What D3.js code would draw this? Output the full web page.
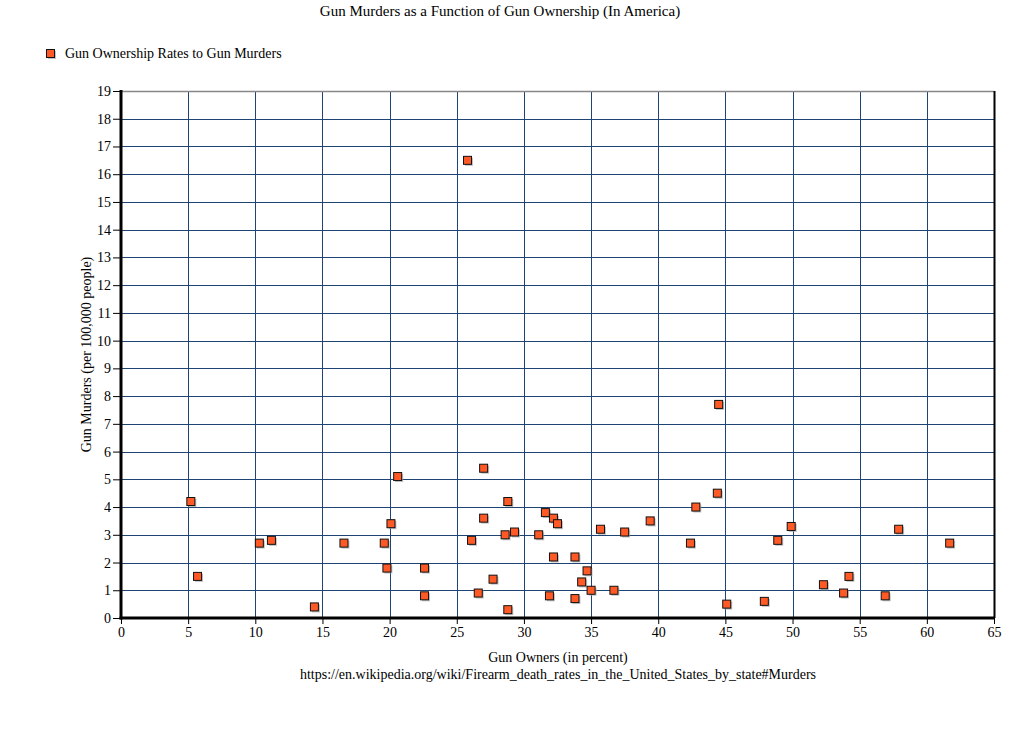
<!DOCTYPE html>
<html>
<head>
<meta charset="utf-8">
<script src="https://cdn.jsdelivr.net/npm/d3@7"></script>
<style>
  html, body { margin: 0; padding: 0; background: #fff; }
  svg text { font-family: "Liberation Serif", "Times New Roman", serif; fill: #000; }
</style>
</head>
<body>
<svg id="chart" width="1024" height="753"></svg>
<script>
// Gun ownership (percent) per state
const ownership = [5.2, 5.7, 10.3, 11.2, 14.4, 16.6, 19.6, 19.8, 20.1, 20.6,
  22.6, 22.6, 25.8, 26.1, 26.6, 27.0, 27.0, 27.7, 28.6, 28.8, 28.8, 29.3,
  31.1, 31.6, 31.9, 32.2, 32.2, 32.5, 33.8, 33.8, 34.3, 34.7, 35.0, 35.7,
  36.7, 37.5, 39.4, 42.4, 42.8, 44.4, 44.5, 45.1, 47.9, 48.9, 49.9, 52.3,
  53.8, 54.2, 56.9, 57.9, 61.7];
// Gun murders per 100,000 people
const murders = [4.2, 1.5, 2.7, 2.8, 0.4, 2.7, 2.7, 1.8, 3.4, 5.1,
  1.8, 0.8, 16.5, 2.8, 0.9, 5.4, 3.6, 1.4, 3.0, 4.2, 0.3, 3.1,
  3.0, 3.8, 0.8, 3.6, 2.2, 3.4, 2.2, 0.7, 1.3, 1.7, 1.0, 3.2,
  1.0, 3.1, 3.5, 2.7, 4.0, 4.5, 7.7, 0.5, 0.6, 2.8, 3.3, 1.2,
  0.9, 1.5, 0.8, 3.2, 2.7];
const xTicks = d3.range(0, 66, 5);
const yTicks = d3.range(0, 20, 1);
const titleText = "Gun Murders as a Function of Gun Ownership (In America)";
const legendText = "Gun Ownership Rates to Gun Murders";
const xLabel = "Gun Owners (in percent)";
const sourceText = "https://en.wikipedia.org/wiki/Firearm_death_rates_in_the_United_States_by_state#Murders";
const yLabel = "Gun Murders (per 100,000 people)";

const points = ownership.map((x, i) => ({x, y: murders[i]}));

const svg = d3.select("#chart");
const pLeft = 121, pRight = 994, pTop = 91, pBottom = 618;
const x = d3.scaleLinear().domain([0, 65]).range([pLeft, pRight]);
const y = d3.scaleLinear().domain([0, 19]).range([pBottom, pTop]);

const gridColor = "#1d4473";
const fs = "14px";

// grid
const g = svg.append("g");
g.selectAll("line.vg").data(xTicks.filter(d => d > 0 && d < 65)).enter().append("line")
  .attr("x1", d => Math.round(x(d)) + 0.5).attr("x2", d => Math.round(x(d)) + 0.5)
  .attr("y1", pTop).attr("y2", pBottom)
  .attr("stroke", gridColor).attr("stroke-width", 1);
g.selectAll("line.hg").data(yTicks.filter(d => d > 0 && d < 19)).enter().append("line")
  .attr("x1", pLeft).attr("x2", pRight)
  .attr("y1", d => Math.round(y(d)) + 0.5).attr("y2", d => Math.round(y(d)) + 0.5)
  .attr("stroke", gridColor).attr("stroke-width", 1);

// top border (gray) and right border (black)
svg.append("line").attr("x1", pLeft).attr("x2", pRight).attr("y1", pTop + 0.5).attr("y2", pTop + 0.5)
  .attr("stroke", "#888").attr("stroke-width", 1.5);
svg.append("line").attr("x1", pRight + 0.5).attr("x2", pRight + 0.5).attr("y1", pTop).attr("y2", pBottom)
  .attr("stroke", "#000").attr("stroke-width", 2);

// axes
const xAxis = d3.axisBottom(x).tickValues(xTicks).tickSize(6).tickPadding(3);
const yAxis = d3.axisLeft(y).tickValues(yTicks).tickSize(8).tickPadding(2);

const gx = svg.append("g").attr("transform", `translate(0,${pBottom})`).call(xAxis);
gx.select(".domain").remove();
gx.selectAll(".tick line").attr("stroke", "#000");
gx.selectAll(".tick text").style("font-size", fs).style("font-family", "Liberation Serif, serif").attr("fill", "#000");

const gy = svg.append("g").attr("transform", `translate(${pLeft},0)`).call(yAxis);
gy.select(".domain").remove();
gy.selectAll(".tick line").attr("stroke", "#000");
gy.selectAll(".tick text").style("font-size", fs).style("font-family", "Liberation Serif, serif").attr("fill", "#000");

// thick axis lines
svg.append("line").attr("x1", pLeft).attr("x2", pLeft).attr("y1", pTop - 1).attr("y2", pBottom + 1.5)
  .attr("stroke", "#000").attr("stroke-width", 3);
svg.append("line").attr("x1", pLeft - 1.5).attr("x2", pRight + 1).attr("y1", pBottom).attr("y2", pBottom)
  .attr("stroke", "#000").attr("stroke-width", 3);

// markers with shadow
const s = 8;
const mk = svg.append("g");
mk.selectAll("rect.sh").data(points).enter().append("rect")
  .attr("x", d => x(d.x) - s / 2 + 1.5).attr("y", d => y(d.y) - s / 2 + 1.5)
  .attr("width", s).attr("height", s).attr("fill", "#aaa").attr("opacity", 0.7);
mk.selectAll("rect.pt").data(points).enter().append("rect")
  .attr("x", d => x(d.x) - s / 2).attr("y", d => y(d.y) - s / 2)
  .attr("width", s).attr("height", s)
  .attr("fill", "#ff5a26").attr("stroke", "#111").attr("stroke-width", 1);

// title
svg.append("text").attr("x", 500).attr("y", 16).attr("text-anchor", "middle")
  .style("font-size", "15px").text(titleText);

// legend
svg.append("rect").attr("x", 46.5).attr("y", 49.5).attr("width", 8).attr("height", 8)
  .attr("fill", "#aaa").attr("opacity", 0.7).attr("transform", "translate(1.5,1.5)");
svg.append("rect").attr("x", 46.5).attr("y", 49.5).attr("width", 8).attr("height", 8)
  .attr("fill", "#ff5a26").attr("stroke", "#111").attr("stroke-width", 1);
svg.append("text").attr("x", 65).attr("y", 58).style("font-size", fs).text(legendText);

// axis titles
svg.append("text").attr("x", 558).attr("y", 662).attr("text-anchor", "middle")
  .style("font-size", fs).text(xLabel);
svg.append("text").attr("x", 558).attr("y", 679).attr("text-anchor", "middle")
  .style("font-size", fs).text(sourceText);
svg.append("text").attr("transform", `translate(91,${(pTop + pBottom) / 2}) rotate(-90)`)
  .attr("text-anchor", "middle").style("font-size", fs).text(yLabel);
</script>
</body>
</html>
